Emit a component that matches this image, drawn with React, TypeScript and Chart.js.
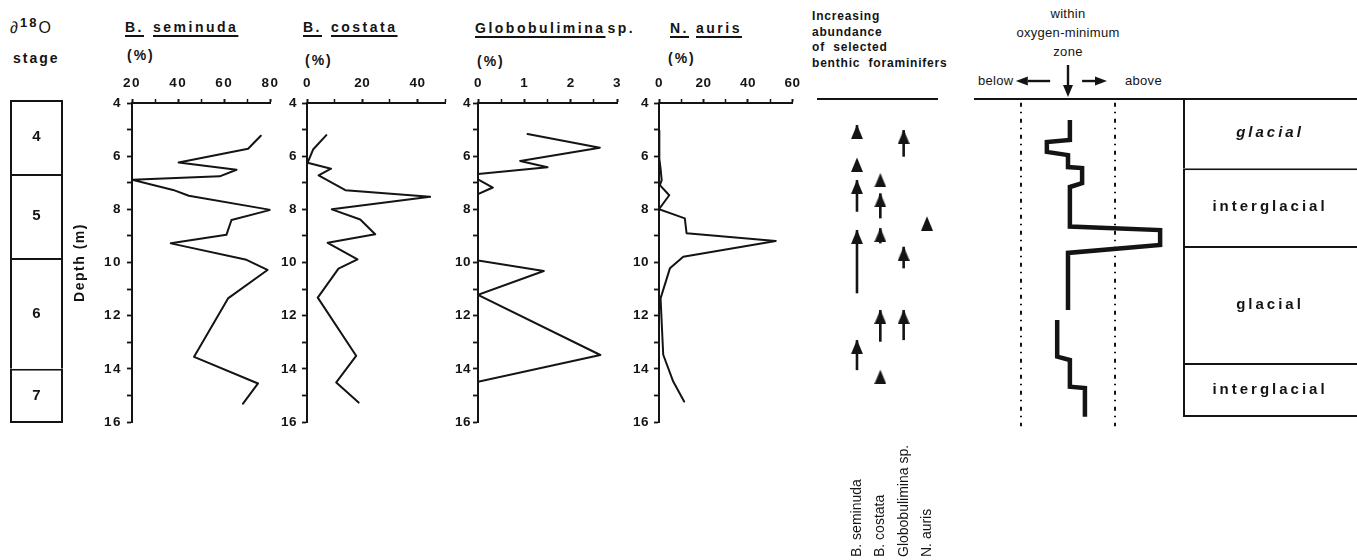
import React, { useEffect, useRef } from 'react';
import { Chart, registerables } from 'chart.js';

Chart.register(...registerables);

// ---------------- data ----------------
const seminudaDepth = [5.23, 5.72, 6.24, 6.51, 6.76, 6.89, 7.27, 7.49, 8.02, 8.4, 8.96, 9.28, 9.9, 10.28, 11.35, 13.55, 14.55, 15.31];
const seminudaPct = [75.8, 70.3, 40.2, 65.3, 58.0, 20.0, 37.8, 44.6, 80.0, 63.1, 60.9, 36.8, 69.6, 78.7, 61.6, 46.9, 74.6, 68.1];

const costataDepth = [5.21, 5.75, 6.25, 6.47, 6.72, 7.28, 7.53, 8.0, 8.38, 8.94, 9.26, 9.88, 10.23, 11.32, 13.51, 14.51, 15.27];
const costataPct = [7.0, 2.2, 0.2, 8.7, 4.2, 13.9, 44.6, 9.0, 19.3, 24.7, 7.5, 18.3, 11.4, 3.9, 17.8, 10.6, 18.7];

const globoDepth = [5.17, 5.68, 6.18, 6.42, 6.67, 6.87, 7.18, 7.43, 9.92, 10.32, 11.22, 13.48, 14.49];
const globoPct = [1.07, 2.63, 0.91, 1.5, 0.0, 0.0, 0.32, 0.0, 0.0, 1.42, 0.0, 2.64, 0.0];

const aurisDepth = [5.03, 6.09, 6.47, 6.9, 7.09, 7.47, 7.99, 8.34, 8.9, 9.19, 9.78, 10.22, 11.35, 13.47, 14.48, 15.23];
const aurisPct = [0.0, 0.15, 0.7, 1.2, 0.4, 4.6, 0.0, 11.6, 12.4, 52.5, 10.9, 4.9, 0.7, 1.9, 6.4, 11.3];

// oxygen stage column
const stageLabels = ['4', '5', '6', '7'];
const stageBounds = [3.89, 6.67, 9.83, 14.0, 16.04];

// climate table
const periodLabels = ['glacial', 'interglacial', 'glacial', 'interglacial'];
const periodBounds = [3.81, 6.45, 9.38, 13.78, 15.81];

// increasing-abundance arrows: [shaft bottom depth, tip depth] or [tip depth] (head only)
const speciesNames = ['B. seminuda', 'B. costata', 'Globobulimina sp.', 'N. auris'];
const seminudaArrows = [[5.27, 4.83], [6.07], [8.09, 6.9], [11.16, 8.78], [14.05, 12.92]];
const costataArrows = [[6.65], [8.34, 7.4], [9.28, 8.71], [12.98, 11.79], [14.05]];
const globoArrows = [[6.02, 5.02], [10.22, 9.41], [12.92, 11.79]];
const aurisArrows = [[8.28]];
const speciesArrows = [seminudaArrows, costataArrows, globoArrows, aurisArrows];

// position relative to oxygen-minimum zone (-1 = lower boundary, +1 = upper boundary)
const oxyDepthA = [4.64, 5.39, 5.47, 5.84, 5.96, 6.41, 6.45, 7.01, 7.16, 8.65, 8.78, 9.34, 9.64, 11.79];
const oxyPosA = [0.04, 0.04, -0.45, -0.45, 0.0, 0.0, 0.3, 0.3, 0.04, 0.04, 1.96, 1.96, 0.0, 0.0];
const oxyDepthB = [12.16, 13.54, 13.67, 14.67, 14.72, 15.8];
const oxyPosB = [-0.23, -0.23, 0.04, 0.04, 0.36, 0.36];
const omzBoundaries = [-1, 1];
const omzBoundaryDepths = [3.99, 16.16];

// ---------------- layout helpers ----------------
const W = 1357;
const H = 560;
const TOP_PX = 103;
const BOTTOM_PX = 422;
const D_MIN = 4;
const D_MAX = 16;
const PX_PER_M = (BOTTOM_PX - TOP_PX) / (D_MAX - D_MIN);
const depthPx = (d: number) => TOP_PX + (d - D_MIN) * PX_PER_M;
const XH = 40;
const FONT = "'Liberation Sans', Arial, Helvetica, sans-serif";
const INK = '#141414';

const isMult = (v: number, m: number) => Math.abs(v / m - Math.round(v / m)) < 1e-6;

const spacingPlugin = {
  id: 'spacing',
  beforeDraw(chart: any, _a: any, opts: any) {
    (chart.ctx as any).letterSpacing = (opts && opts.value) || '0px';
  },
};

function baseOptions(padding: any) {
  return {
    responsive: false,
    maintainAspectRatio: false,
    animation: false,
    devicePixelRatio: 1,
    events: [],
    layout: { padding },
  };
}

function profileConfig(o: any) {
  const tickFont = { family: FONT, size: 13.5, weight: 'bold' };
  return {
    type: 'scatter',
    data: {
      datasets: [
        {
          data: o.depths.map((d: number, i: number) => ({ x: o.values[i], y: d })),
          showLine: true,
          borderColor: INK,
          borderWidth: 2,
          pointRadius: 0,
          borderJoinStyle: 'round',
          borderCapStyle: 'round',
        },
      ],
    },
    options: {
      ...baseOptions({ left: 0, right: o.padRight, top: TOP_PX - XH, bottom: H - BOTTOM_PX }),
      plugins: { legend: { display: false }, tooltip: { enabled: false }, spacing: { value: o.spacing || '0.5px' } },
      scales: {
        x: {
          type: 'linear',
          position: 'top',
          min: o.min,
          max: o.max,
          ticks: {
            stepSize: o.step,
            autoSkip: false,
            maxRotation: 0,
            padding: 8,
            font: tickFont,
            color: INK,
            callback: (v: number) => (isMult(v, o.major) ? String(v) : ''),
          },
          grid: {
            drawOnChartArea: false,
            drawTicks: true,
            tickLength: 4,
            tickColor: INK,
            tickWidth: (c: any) => (c.tick && isMult(c.tick.value, o.major) ? 2 : 1.5),
          },
          border: { display: true, color: INK, width: 2 },
          afterFit: (s: any) => {
            s.height = XH;
          },
        },
        y: {
          type: 'linear',
          position: 'left',
          reverse: true,
          min: D_MIN,
          max: D_MAX,
          ticks: {
            stepSize: 1,
            autoSkip: false,
            padding: o.yPad,
            font: tickFont,
            color: INK,
            callback: (v: number) => (isMult(v, 2) ? String(v) : ''),
          },
          grid: { drawOnChartArea: false, drawTicks: true, tickLength: 5, tickColor: INK, tickWidth: 1.8 },
          border: { display: true, color: INK, width: 2 },
          title: o.title
            ? {
                display: true,
                text: o.title,
                font: { family: FONT, size: 14, weight: 'bold' },
                color: INK,
                padding: { top: 2, bottom: 0 },
              }
            : { display: false },
          afterFit: (s: any) => {
            s.width = o.yW;
          },
        },
      },
    },
    plugins: [spacingPlugin],
  };
}

const blockLabelPlugin = {
  id: 'blockLabels',
  afterDatasetsDraw(chart: any, _a: any, opts: any) {
    const ctx = chart.ctx;
    ctx.save();
    (ctx as any).letterSpacing = opts.spacing || '0px';
    ctx.fillStyle = INK;
    ctx.textAlign = 'center';
    ctx.textBaseline = 'middle';
    chart.data.datasets.forEach((ds: any, i: number) => {
      const el = chart.getDatasetMeta(i).data[0];
      if (!el) return;
      const c = el.getCenterPoint();
      const italic = opts.italicFirst && i === 0 ? 'italic ' : '';
      ctx.font = `${italic}bold ${opts.size}px ${FONT}`;
      ctx.fillText(ds.label, c.x, c.y);
    });
    ctx.restore();
  },
};

function blockConfig(labels: string[], bounds: number[], yMin: number, yMax: number, o: any) {
  const n = labels.length;
  return {
    type: 'bar',
    data: {
      labels: [''],
      datasets: labels.map((lab, i) => ({
        label: lab,
        data: [[bounds[i], bounds[i + 1]]],
        backgroundColor: '#ffffff',
        borderColor: INK,
        borderWidth: { top: 2, bottom: i === n - 1 ? 2 : 0, left: 2, right: o.right },
        borderSkipped: false,
        grouped: false,
        barPercentage: 1,
        categoryPercentage: 1,
        inflateAmount: 0,
      })),
    },
    options: {
      ...baseOptions({ left: 0, right: 0, top: depthPx(yMin), bottom: H - depthPx(yMax) }),
      plugins: {
        legend: { display: false },
        tooltip: { enabled: false },
        blockLabels: { size: o.size, spacing: o.spacing, italicFirst: o.italicFirst },
      },
      scales: {
        x: { display: false },
        y: { display: false, reverse: true, min: yMin, max: yMax },
      },
    },
    plugins: [blockLabelPlugin],
  };
}

let headImg: HTMLCanvasElement | null = null;
function arrowHead() {
  if (headImg) return headImg;
  const c = document.createElement('canvas');
  c.width = 12;
  c.height = 28;
  const g = c.getContext('2d')!;
  g.fillStyle = INK;
  g.beginPath();
  g.moveTo(6, 13.5);
  g.lineTo(12, 28);
  g.lineTo(0, 28);
  g.closePath();
  g.fill();
  headImg = c;
  return c;
}

const speciesLabelPlugin = {
  id: 'speciesLabels',
  afterDraw(chart: any) {
    const ctx = chart.ctx;
    const xs = chart.scales.x;
    ctx.save();
    ctx.fillStyle = INK;
    ctx.font = `14px ${FONT}`;
    ctx.textAlign = 'left';
    ctx.textBaseline = 'middle';
    speciesNames.forEach((name, i) => {
      ctx.save();
      ctx.translate(xs.getPixelForValue(i + 1), 557);
      ctx.rotate(-Math.PI / 2);
      ctx.fillText(name, 0, 0);
      ctx.restore();
    });
    ctx.restore();
  },
};

function arrowsConfig() {
  const head = arrowHead();
  const datasets: any[] = [];
  speciesArrows.forEach((arrows, s) => {
    arrows.forEach((a) => {
      datasets.push({
        data: a.map((d) => ({ x: s + 1, y: d })),
        showLine: a.length > 1,
        borderColor: INK,
        borderWidth: 2.6,
        borderCapStyle: 'butt',
        pointStyle: (c: any) => (c.dataIndex === a.length - 1 ? head : 'circle'),
        pointRadius: (c: any) => (c.dataIndex === a.length - 1 ? 5 : 0),
      });
    });
  });
  const yMin = 3.85;
  return {
    type: 'scatter',
    data: { datasets },
    options: {
      ...baseOptions({ left: 18, right: 23, top: depthPx(yMin), bottom: H - BOTTOM_PX }),
      plugins: { legend: { display: false }, tooltip: { enabled: false } },
      scales: {
        x: {
          type: 'linear',
          position: 'top',
          min: -0.671,
          max: 4.429,
          ticks: { display: false },
          grid: { display: false },
          border: { display: true, color: INK, width: 2 },
          afterFit: (s: any) => {
            s.height = 0;
          },
        },
        y: { display: false, reverse: true, min: yMin, max: D_MAX },
      },
    },
    plugins: [speciesLabelPlugin],
  };
}

const headerArrowPlugin = {
  id: 'headerArrows',
  afterDraw(chart: any) {
    const { ctx, chartArea, scales } = chart;
    const xs = scales.x;
    const yMid = chartArea.top - 18;
    ctx.save();
    ctx.strokeStyle = INK;
    ctx.fillStyle = INK;
    ctx.lineWidth = 2.4;
    const arrow = (x1: number, y1: number, x2: number, y2: number, len: number, half: number) => {
      const ang = Math.atan2(y2 - y1, x2 - x1);
      const bx = x2 - Math.cos(ang) * len;
      const by = y2 - Math.sin(ang) * len;
      ctx.beginPath();
      ctx.moveTo(x1, y1);
      ctx.lineTo(bx, by);
      ctx.stroke();
      ctx.beginPath();
      ctx.moveTo(x2, y2);
      ctx.lineTo(bx - Math.sin(ang) * half, by + Math.cos(ang) * half);
      ctx.lineTo(bx + Math.sin(ang) * half, by - Math.cos(ang) * half);
      ctx.closePath();
      ctx.fill();
    };
    arrow(xs.getPixelForValue(-0.38), yMid, xs.getPixelForValue(-1.11), yMid, 12, 4.5);
    arrow(xs.getPixelForValue(0.3), yMid, xs.getPixelForValue(0.83), yMid, 12, 4.5);
    const cx = xs.getPixelForValue(0);
    arrow(cx, chartArea.top - 34, cx, chartArea.top - 2, 12, 5);
    ctx.restore();
  },
};

function oxygenConfig() {
  const yMin = 3.85;
  const thick = {
    showLine: true,
    borderColor: INK,
    borderWidth: 4.5,
    pointRadius: 0,
    borderJoinStyle: 'miter',
    borderCapStyle: 'butt',
  };
  const bounds = omzBoundaries.map((b) => ({
    data: omzBoundaryDepths.map((d) => ({ x: b, y: d })),
    showLine: true,
    borderColor: INK,
    borderWidth: 2,
    borderDash: [4, 5, 1.5, 5.5],
    pointRadius: 0,
    clip: false,
  }));
  return {
    type: 'scatter',
    data: {
      datasets: [
        { ...thick, data: oxyDepthA.map((d, i) => ({ x: oxyPosA[i], y: d })) },
        { ...thick, data: oxyDepthB.map((d, i) => ({ x: oxyPosB[i], y: d })) },
        ...bounds,
      ],
    },
    options: {
      ...baseOptions({ left: 15, right: 17, top: depthPx(yMin), bottom: H - BOTTOM_PX }),
      plugins: { legend: { display: false }, tooltip: { enabled: false } },
      scales: {
        x: {
          type: 'linear',
          position: 'top',
          min: -1.979,
          max: 2.447,
          ticks: { display: false },
          grid: { display: false },
          border: { display: true, color: INK, width: 2 },
          afterFit: (s: any) => {
            s.height = 0;
          },
        },
        y: { display: false, reverse: true, min: yMin, max: D_MAX },
      },
    },
    plugins: [headerArrowPlugin],
  };
}

// ---------------- components ----------------
function ChartBox({ left, width, make }: { left: number; width: number; make: () => any }) {
  const ref = useRef<HTMLCanvasElement>(null);
  useEffect(() => {
    const chart = new Chart(ref.current as HTMLCanvasElement, make());
    return () => chart.destroy();
  }, []);
  return (
    <canvas
      ref={ref}
      width={width}
      height={H}
      style={{ position: 'absolute', left, top: 0, width, height: H }}
    />
  );
}

function T({
  x,
  y,
  size = 14,
  weight = 700,
  spacing = 0,
  center = false,
  children,
}: {
  x: number;
  y: number;
  size?: number;
  weight?: number;
  spacing?: number;
  center?: boolean;
  children: any;
}) {
  return (
    <div
      style={{
        position: 'absolute',
        left: x,
        top: y - size * 0.6,
        fontFamily: FONT,
        fontSize: size,
        fontWeight: weight,
        letterSpacing: spacing,
        lineHeight: `${size * 1.2}px`,
        whiteSpace: 'pre',
        color: INK,
        transform: center ? 'translateX(-50%)' : undefined,
      }}
    >
      {children}
    </div>
  );
}

const U = ({ children }: { children: any }) => (
  <span style={{ textDecoration: 'underline', textUnderlineOffset: 3, textDecorationThickness: '1.5px' }}>
    {children}
  </span>
);
const Gap = ({ w }: { w: number }) => <span style={{ display: 'inline-block', width: w }} />;

export default function App() {
  return (
    <div
      style={{
        position: 'absolute',
        left: 0,
        top: 0,
        width: W,
        height: H,
        overflow: 'hidden',
        background: '#ffffff',
      }}
    >
      {/* headers */}
      <T x={10} y={28} size={16} weight={400}>
        ∂
        <span style={{ fontSize: 13, fontWeight: 700, position: 'relative', top: -6, letterSpacing: 2, marginLeft: 2 }}>
          18
        </span>
        O
      </T>
      <T x={13} y={58} spacing={2}>
        stage
      </T>

      <T x={125} y={27} spacing={2.5}>
        <U>B.</U>
        <Gap w={9} />
        <U>seminuda</U>
      </T>
      <T x={127} y={55} spacing={2}>
        (%)
      </T>

      <T x={303} y={27} spacing={2.5}>
        <U>B.</U>
        <Gap w={9} />
        <U>costata</U>
      </T>
      <T x={305} y={60} spacing={2}>
        (%)
      </T>

      <T x={475} y={28} spacing={2.5}>
        <U>Globobulimina</U>
        <Gap w={2} />
        sp.
      </T>
      <T x={477} y={61} spacing={2}>
        (%)
      </T>

      <T x={670} y={28} spacing={2.5}>
        <U>N.</U>
        <Gap w={7} />
        <U>auris</U>
      </T>
      <T x={668} y={58} spacing={2}>
        (%)
      </T>

      <T x={812} y={16.5} size={12} spacing={0.8}>
        Increasing
      </T>
      <T x={812} y={32} size={12} spacing={0.8}>
        abundance
      </T>
      <T x={812} y={47.5} size={12} spacing={0.8}>
        {'of  selected'}
      </T>
      <T x={812} y={63} size={12} spacing={0.8}>
        {'benthic  foraminifers'}
      </T>

      <T x={1068} y={14} size={13} weight={400} spacing={0.3} center>
        within
      </T>
      <T x={1068} y={33} size={13} weight={400} spacing={0.3} center>
        oxygen-minimum
      </T>
      <T x={1068} y={52} size={13} weight={400} spacing={0.3} center>
        zone
      </T>
      <T x={978} y={81} size={13} weight={400} spacing={0.3}>
        below
      </T>
      <T x={1125} y={81} size={13} weight={400} spacing={0.3}>
        above
      </T>

      {/* charts */}
      <ChartBox left={10} width={53} make={() => blockConfig(stageLabels, stageBounds, 3.85, 16.2, { size: 15, right: 2 })} />
      <ChartBox
        left={70}
        width={216}
        make={() =>
          profileConfig({
            depths: seminudaDepth,
            values: seminudaPct,
            min: 20,
            max: 80,
            step: 10,
            major: 20,
            yW: 62,
            yPad: 5,
            padRight: 15,
            title: 'Depth (m)',
            spacing: '1.5px',
          })
        }
      />
      <ChartBox
        left={267}
        width={193}
        make={() =>
          profileConfig({ depths: costataDepth, values: costataPct, min: 0, max: 50, step: 10, major: 20, yW: 40, yPad: 5, padRight: 15 })
        }
      />
      <ChartBox
        left={438}
        width={194}
        make={() =>
          profileConfig({ depths: globoDepth, values: globoPct, min: 0, max: 3, step: 0.5, major: 1, yW: 40, yPad: 2, padRight: 15 })
        }
      />
      <ChartBox
        left={619}
        width={189}
        make={() =>
          profileConfig({ depths: aurisDepth, values: aurisPct, min: 0, max: 60, step: 10, major: 20, yW: 40, yPad: 5, padRight: 15 })
        }
      />
      <ChartBox left={800} width={160} make={arrowsConfig} />
      <ChartBox left={960} width={240} make={oxygenConfig} />
      <ChartBox
        left={1183}
        width={174}
        make={() => blockConfig(periodLabels, periodBounds, 3.7, D_MAX, { size: 15, spacing: '3px', italicFirst: true, right: 0 })}
      />
    </div>
  );
}
